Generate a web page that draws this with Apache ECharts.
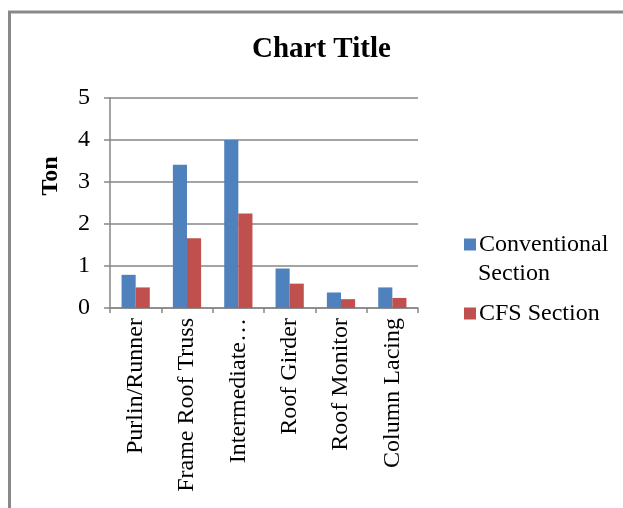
<!DOCTYPE html>
<html>
<head>
<meta charset="utf-8">
<title>Chart Title</title>
<script src="https://cdn.jsdelivr.net/npm/echarts@6/dist/echarts.min.js"></script>
<style>
    html, body { margin: 0; padding: 0; background: #fff; }
    #main { width: 623px; height: 508px; }
</style>
</head>
<body>
<div id="main"></div>
<script>
    // 数据
    const categories = ['Purlin/Runner', 'Frame Roof Truss', 'Intermediate…', 'Roof Girder', 'Roof Monitor', 'Column Lacing'];
    const conventional = [0.79, 3.41, 4.0, 0.94, 0.37, 0.49];
    const cfs = [0.49, 1.66, 2.25, 0.58, 0.21, 0.24];
    const yTicks = [0, 1, 2, 3, 4, 5];

    const font = 'Liberation Serif, Times New Roman, serif';
    const gray = '#868686';

    const myChart = echarts.init(document.getElementById('main'));
    const option = {
        animation: false,
        title: {
            text: 'Chart Title',
            left: 247,
            top: 30,
            textStyle: { fontFamily: font, fontSize: 29, fontWeight: 'bold', color: '#000' }
        },
        legend: {
            orient: 'vertical',
            left: 459,
            top: 225,
            itemWidth: 12,
            itemHeight: 12,
            itemGap: 40,
            icon: 'rect',
            selectedMode: false,
            data: ['Conventional Section', 'CFS Section'],
            formatter: function (name) {
                // 第二行 "Section" 用 graphic 单独画
                return name === 'Conventional Section' ? 'Conventional' : name;
            },
            textStyle: { fontFamily: font, fontSize: 24, color: '#000', lineHeight: 29, padding: [0, 0, 0, -2] }
        },
        graphic: [
            {
                type: 'rect',
                shape: { x: 9.5, y: 12, width: 700, height: 600 },
                style: { fill: 'none', stroke: '#898989', lineWidth: 3 }
            },
            {
                type: 'text',
                left: 478,
                top: 262,
                style: { text: 'Section', font: '24px ' + font, fill: '#000' }
            }
        ],
        grid: { left: 110, right: 205, top: 98, bottom: 200, containLabel: false },
        xAxis: {
            type: 'category',
            data: categories,
            axisLine: { show: true, lineStyle: { color: gray, width: 1.5 } },
            axisTick: { show: true, length: 5, lineStyle: { color: gray, width: 1.5 } },
            axisLabel: { rotate: 90, margin: 10, fontFamily: font, fontSize: 24, color: '#000', interval: 0 }
        },
        yAxis: {
            type: 'value',
            min: yTicks[0],
            max: yTicks[yTicks.length - 1],
            interval: 1,
            name: 'Ton',
            nameLocation: 'middle',
            nameGap: 47,
            nameRotate: 90,
            nameTextStyle: { fontFamily: font, fontSize: 24, fontWeight: 'bold', color: '#000', padding: [0, 0, 0, 54] },
            axisLine: { show: true, lineStyle: { color: gray, width: 1.5 } },
            axisTick: { show: true, length: 6, lineStyle: { color: gray, width: 1.5 } },
            axisLabel: { margin: 20, fontFamily: font, fontSize: 24, color: '#000' },
            splitLine: { show: true, lineStyle: { color: gray, width: 1.5 } }
        },
        series: [
            {
                name: 'Conventional Section',
                type: 'bar',
                data: conventional,
                barGap: '0%',
                barCategoryGap: '45%',
                itemStyle: { color: '#4F81BD' }
            },
            {
                name: 'CFS Section',
                type: 'bar',
                data: cfs,
                itemStyle: { color: '#C0504D' }
            }
        ]
    };
    myChart.setOption(option);
</script>
</body>
</html>
